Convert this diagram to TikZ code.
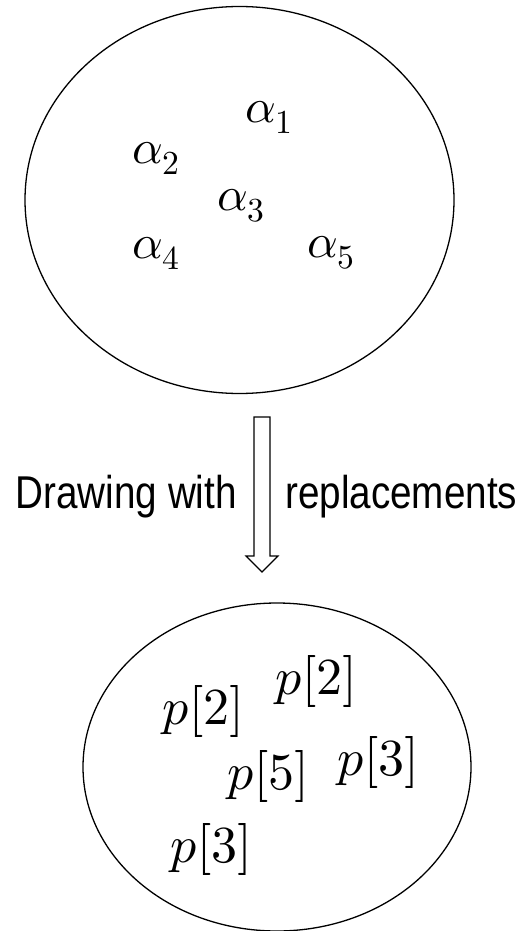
\documentclass[tikz,border=0pt]{standalone}
\usepackage{fontspec}
\usepackage{unicode-math}
\newfontfamily\labfont[FakeStretch=0.84]{Liberation Sans}
\usetikzlibrary{shapes.geometric}
\begin{document}
\begin{tikzpicture}[x=1pt,y=-1pt,
  blob/.style={draw,ellipse,line width=1.3pt,inner sep=0pt},
  sym/.style={inner sep=0pt,anchor=base west,font=\fontsize{48}{58}\selectfont},
  psym/.style={inner sep=0pt,anchor=base west,font=\fontsize{52}{62}\selectfont},
  lab/.style={inner sep=0pt,font=\labfont\fontsize{46}{56}\selectfont}]
\useasboundingbox (0,0) rectangle (530,931);
\node[blob,minimum width=429pt,minimum height=387pt] (top) at (239.5,200) {};
\node[blob,minimum width=388pt,minimum height=328pt] (bot) at (277,767) {};
\node[sym] (a1) at (245,122) {$\alpha_1$};
\node[sym] (a2) at (132,163) {$\alpha_2$};
\node[sym] (a3) at (217,210) {$\alpha_3$};
\node[sym] (a4) at (132,258) {$\alpha_4$};
\node[sym] (a5) at (307,257) {$\alpha_5$};
\node[psym] (p1) at (162,724) {$p[2]$};
\node[psym] (p2) at (275,694) {$p[2]$};
\node[psym] (p3) at (227,789) {$p[5]$};
\node[psym] (p4) at (337,775) {$p[3]$};
\node[psym] (p5) at (170,862) {$p[3]$};
\coordinate (tip) at (262,572);
\draw[line width=1.1pt,line join=miter]
  (254,417) -- (270,417) -- (270,556) -- (278,556) -- (tip)
  -- (246,556) -- (254,556) -- cycle;
\node[lab,anchor=base east] (l1) at (237,508) {Drawing with};
\node[lab,anchor=base west] (l2) at (285,508) {replacements};
\end{tikzpicture}
\end{document}
